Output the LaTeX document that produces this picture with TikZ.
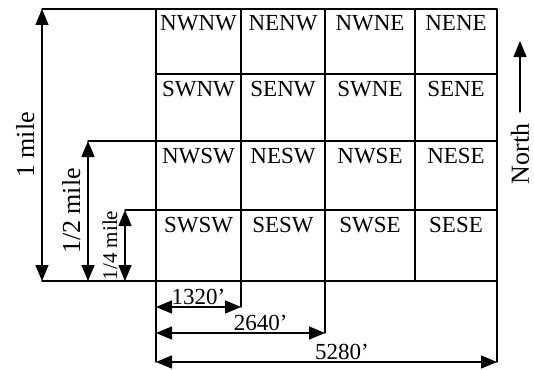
\documentclass[tikz,border=0pt]{standalone}
\usepackage{fontspec}
\setmainfont{Liberation Serif}
\usetikzlibrary{arrows.meta}
\begin{document}
\begin{tikzpicture}[x=1pt,y=-1pt,line join=round,line cap=round,line width=1.4pt,
  >={Triangle[length=16pt,width=13pt]},
  cell/.style={anchor=north,inner sep=0pt,font=\fontsize{23}{23}\selectfont},
  feet/.style={above,inner sep=1.5pt,font=\fontsize{23}{23}\selectfont},
  mile/.style={rotate=90,anchor=south,inner sep=7pt,font=\fontsize{26}{26}\selectfont}]
\useasboundingbox (0,0) rectangle (534,369);
\path
(42,9) coordinate (T)
(42,281) coordinate (B)
(88,141) coordinate (H)
(88,281) coordinate (HB)
(125,210) coordinate (Q)
(125,281) coordinate (QB)
(156,9) coordinate (C0)
(241,9) coordinate (C1)
(325,9) coordinate (C2)
(415,9) coordinate (C3)
(497,9) coordinate (C4)
(156,362) coordinate (D0)
(241,307) coordinate (D1)
(325,333) coordinate (D2)
(415,281) coordinate (D3)
(497,362) coordinate (D4)
(156,307) coordinate (F1)
(156,333) coordinate (F2)
(520,41) coordinate (Ntip)
;
% grid
\draw
(T) -- (C4)
(156,74) -- (497,74)
(H) -- (497,141)
(Q) -- (497,210)
(B) -- (497,281)
(C0) -- (D0)
(C1) -- (D1)
(C2) -- (D2)
(C3) -- (D3)
(C4) -- (D4)
;
% quarter quarter sections
\foreach \lab/\x/\y in {NWNW/198.5/15,NENW/283/15,NWNE/370/15,NENE/456/15,
  SWNW/198.5/81,SENW/283/81,SWNE/370/81,SENE/456/81,
  NWSW/198.5/148,NESW/283/148,NWSE/370/148,NESE/456/148,
  SWSW/198.5/217,SESW/283/217,SWSE/370/217,SESE/456/217}
  \node[cell] (\lab) at (\x,\y) {\lab};
% dimensions
\draw[<->] (T) -- (B) node[mile,midway]{1 mile};
\draw[<->] (H) -- (HB) node[mile,midway]{1/2 mile};
\draw[<->] (Q) -- (QB) node[mile,midway,font=\fontsize{21}{21}\selectfont]{1/4 mile};
\draw[<->] (F1) -- (D1) node[feet,midway]{1320'};
\draw[<->] (F2) -- (D2) node[feet,pos=0.62]{2640'};
\draw[<->] (D0) -- (D4) node[feet,pos=0.545]{5280'};
% north arrow
\node[rotate=90,inner sep=0pt,inner xsep=11pt,font=\fontsize{26}{26}\selectfont] (north) at (520,154) {North};
\draw[->] (north.east) -- (Ntip);
\end{tikzpicture}
\end{document}
